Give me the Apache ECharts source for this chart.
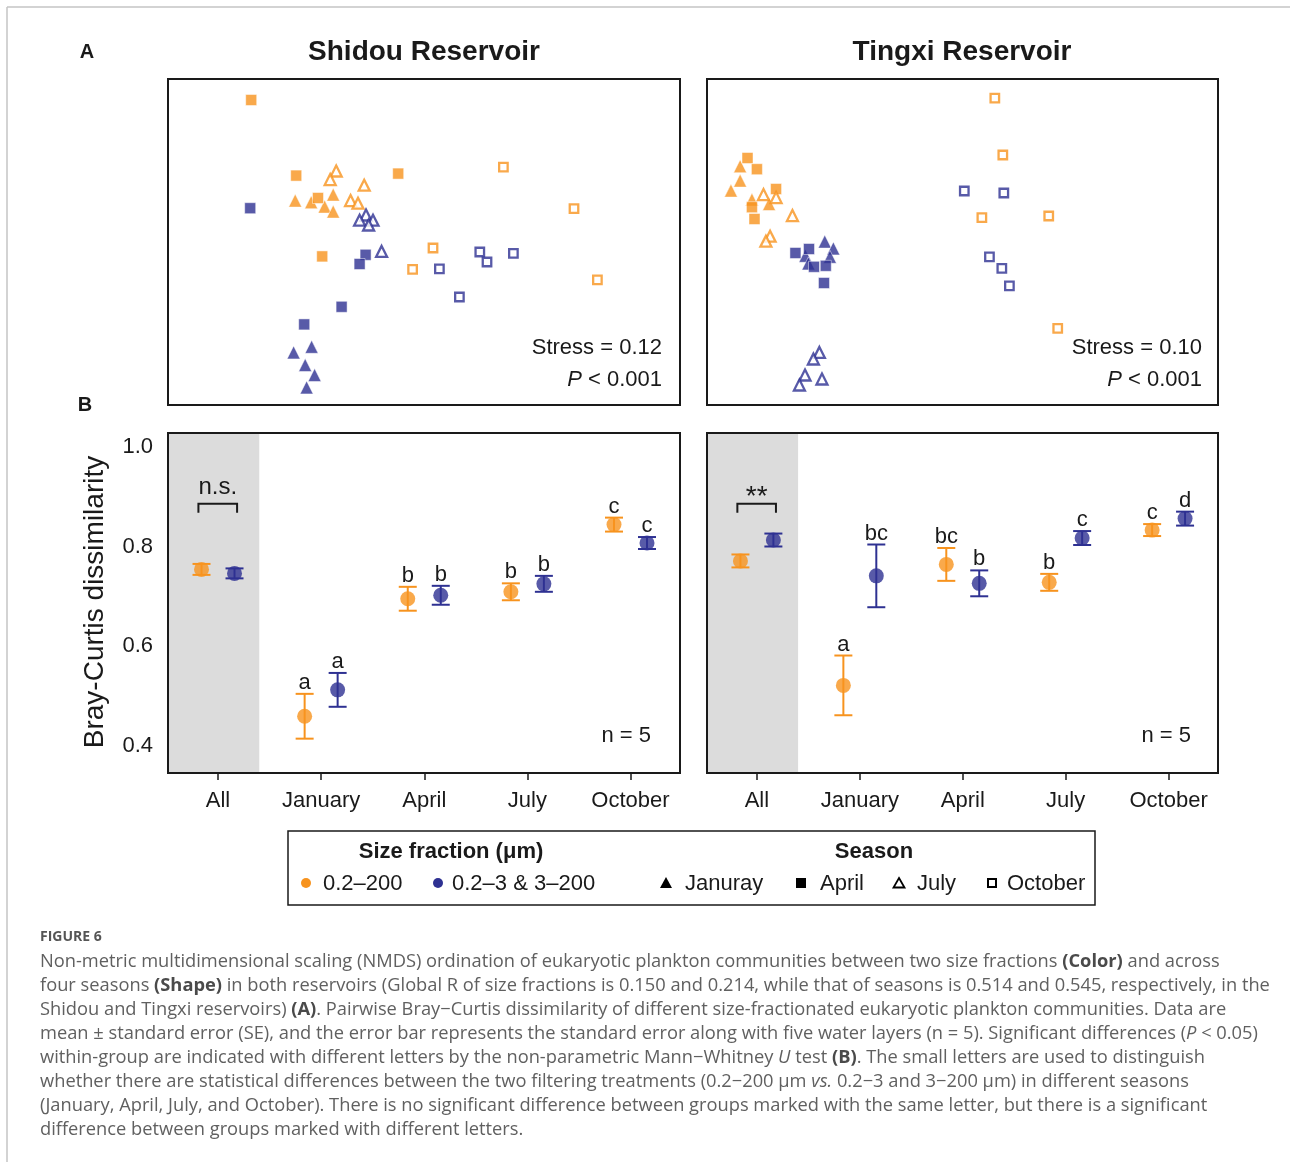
<!DOCTYPE html>
<html>
<head>
<meta charset="utf-8">
<title>NMDS and Bray-Curtis</title>
<script src="https://cdn.jsdelivr.net/npm/echarts@6/dist/echarts.min.js"></script>
<style>
  html, body { margin: 0; padding: 0; background: #fff; }
  #chart { width: 1290px; height: 1162px; }
</style>
</head>
<body>
<div id="chart"></div>
<script>
// ---- data ----
var reservoirs = ['Shidou Reservoir', 'Tingxi Reservoir'];
var seasons = ['January', 'April', 'July', 'October'];
var fractions = ['0.2–200', '0.2–3 & 3–200'];
var stressLabels = ['Stress = 0.12', 'Stress = 0.10'];

// NMDS scores [NMDS1, NMDS2]; "whole" = 0.2–200, "split" = 0.2–3 & 3–200
var shidouWholeJan = [[-0.644, 0.207], [-0.564, 0.199], [-0.454, 0.237], [-0.497, 0.177], [-0.454, 0.152]];
var shidouWholeApr = [[-0.864, 0.710], [-0.639, 0.332], [-0.530, 0.220], [-0.509, -0.072], [-0.129, 0.342]];
var shidouWholeJul = [[-0.439, 0.355], [-0.469, 0.312], [-0.299, 0.284], [-0.367, 0.207], [-0.330, 0.194]];
var shidouWholeOct = [[0.397, 0.374], [0.750, 0.167], [0.045, -0.030], [-0.057, -0.137], [0.867, -0.189]];
var shidouSplitJan = [[-0.652, -0.552], [-0.562, -0.524], [-0.594, -0.615], [-0.547, -0.665], [-0.587, -0.727]];
var shidouSplitApr = [[-0.869, 0.169], [-0.292, -0.064], [-0.322, -0.110], [-0.412, -0.324], [-0.599, -0.412]];
var shidouSplitJul = [[-0.290, 0.135], [-0.322, 0.109], [-0.255, 0.109], [-0.277, 0.085], [-0.212, -0.047]];
var shidouSplitOct = [[0.279, -0.050], [0.315, -0.100], [0.447, -0.057], [0.077, -0.134], [0.177, -0.275]];

var tingxiWholeJan = [[-1.114, 0.379], [-1.114, 0.307], [-1.160, 0.257], [-1.055, 0.212], [-0.969, 0.190]];
var tingxiWholeApr = [[-1.077, 0.420], [-1.030, 0.364], [-0.934, 0.265], [-1.055, 0.174], [-1.042, 0.115]];
var tingxiWholeJul = [[-0.997, 0.237], [-0.934, 0.222], [-0.852, 0.132], [-0.964, 0.029], [-0.985, 0.004]];
var tingxiWholeOct = [[0.162, 0.719], [0.202, 0.435], [0.097, 0.122], [0.432, 0.130], [0.477, -0.432]];
var tingxiSplitJan = [[-0.690, 0.002], [-0.647, -0.032], [-0.664, -0.074], [-0.787, -0.069], [-0.772, -0.107]];
var tingxiSplitApr = [[-0.837, -0.055], [-0.769, -0.035], [-0.744, -0.124], [-0.685, -0.119], [-0.694, -0.205]];
var tingxiSplitJul = [[-0.717, -0.552], [-0.747, -0.585], [-0.789, -0.665], [-0.704, -0.685], [-0.817, -0.715]];
var tingxiSplitOct = [[0.009, 0.255], [0.207, 0.245], [0.135, -0.074], [0.197, -0.132], [0.235, -0.219]];

// Bray-Curtis dissimilarity, mean and SE
var bcCategories = ['All', 'January', 'April', 'July', 'October'];
var bcTicks = [0.4, 0.6, 0.8, 1.0];
var shidouWholeMean = [0.754, 0.459, 0.695, 0.709, 0.844];
var shidouWholeSe = [0.011, 0.045, 0.024, 0.017, 0.014];
var shidouSplitMean = [0.746, 0.512, 0.702, 0.725, 0.807];
var shidouSplitSe = [0.010, 0.034, 0.019, 0.016, 0.012];
var tingxiWholeMean = [0.771, 0.521, 0.764, 0.728, 0.833];
var tingxiWholeSe = [0.013, 0.060, 0.033, 0.017, 0.012];
var tingxiSplitMean = [0.813, 0.741, 0.726, 0.817, 0.856];
var tingxiSplitSe = [0.013, 0.063, 0.026, 0.014, 0.014];
var shidouWholeLetters = ['', 'a', 'b', 'b', 'c'];
var shidouSplitLetters = ['', 'a', 'b', 'b', 'c'];
var tingxiWholeLetters = ['', 'a', 'bc', 'b', 'c'];
var tingxiSplitLetters = ['', 'bc', 'b', 'c', 'd'];
var allTestLabels = ['n.s.', '**'];

// ---- style ----
var FONT = '"Liberation Sans", Arial, Helvetica, sans-serif';
var ORANGE = '#F7931E';
var BLUE = '#2E3192';
var INK = '#1a1a1a';
var OFFSET = 0.16;   // dodge of the two size fractions
var SHADE_END = 0.4; // grey "All" block

function nmdsSeries(axis, data, color, season) {
    var tri = season === 'January' || season === 'July';
    var hollow = season === 'July' || season === 'October';
    return {
        type: 'scatter',
        xAxisIndex: axis,
        yAxisIndex: axis,
        data: data,
        silent: true,
        symbol: tri ? 'triangle' : 'rect',
        symbolSize: tri ? (hollow ? 11 : 13) : (hollow ? 8.5 : 11),
        itemStyle: hollow
            ? { color: '#fff', borderColor: color, borderWidth: 2.3 }
            : { color: color, borderColor: '#fff', borderWidth: 0.6 }
    };
}

function bcSeries(axis, means, ses, letters, color, off) {
    var bars = means.map(function (m, i) { return [i + off, m - ses[i], m + ses[i]]; });
    var pts = means.map(function (m, i) { return [i + off, m]; });
    return [{
        type: 'custom',
        xAxisIndex: axis,
        yAxisIndex: axis,
        data: bars,
        silent: true,
        z: 3,
        renderItem: function (params, api) {
            var x = api.value(0);
            var lo = api.coord([x, api.value(1)]);
            var hi = api.coord([x, api.value(2)]);
            var hw = 9;
            var ls = { stroke: color, lineWidth: 2 };
            return {
                type: 'group',
                children: [
                    { type: 'line', shape: { x1: lo[0], y1: lo[1], x2: hi[0], y2: hi[1] }, style: ls },
                    { type: 'line', shape: { x1: lo[0] - hw, y1: lo[1], x2: lo[0] + hw, y2: lo[1] }, style: ls },
                    { type: 'line', shape: { x1: hi[0] - hw, y1: hi[1], x2: hi[0] + hw, y2: hi[1] }, style: ls },
                    {
                        type: 'text', x: hi[0], y: hi[1],
                        style: {
                            text: letters[params.dataIndex], fill: INK, fontSize: 22, fontFamily: FONT,
                            align: 'center', verticalAlign: 'bottom'
                        }
                    }
                ]
            };
        }
    }, {
        type: 'scatter',
        xAxisIndex: axis,
        yAxisIndex: axis,
        data: pts,
        silent: true,
        z: 4,
        symbol: 'circle',
        symbolSize: 15,
        itemStyle: { color: color }
    }];
}

function bracketSeries(axis, label, gap, size) {
    return {
        type: 'custom',
        xAxisIndex: axis,
        yAxisIndex: axis,
        data: [[-OFFSET - 0.03, OFFSET + 0.025, 0.886, 0.868]],
        silent: true,
        z: 5,
        renderItem: function (params, api) {
            var a = api.coord([api.value(0), api.value(2)]);
            var b = api.coord([api.value(1), api.value(3)]);
            return {
                type: 'group',
                children: [{
                    type: 'polyline',
                    shape: { points: [[a[0], b[1]], [a[0], a[1]], [b[0], a[1]], [b[0], b[1]]] },
                    style: { stroke: INK, lineWidth: 2, fill: null }
                }, {
                    type: 'text', x: (a[0] + b[0]) / 2, y: a[1] - gap,
                    style: {
                        text: label, fill: INK, fontSize: size, fontFamily: FONT,
                        align: 'center', verticalAlign: 'middle'
                    }
                }]
            };
        }
    };
}

function shadeSeries(axis) {
    return {
        type: 'line',
        xAxisIndex: axis,
        yAxisIndex: axis,
        data: [],
        z: 1,
        markArea: {
            silent: true,
            itemStyle: { color: '#dcdcdc' },
            data: [[{ xAxis: -0.485, yAxis: 0.345 }, { xAxis: SHADE_END, yAxis: 1.028 }]]
        }
    };
}

function bcXAxis(grid) {
    return {
        gridIndex: grid, type: 'value', min: -0.485, max: 4.48,
        axisLine: { show: false },
        splitLine: { show: false },
        axisTick: { show: true, length: 7, customValues: [0, 1, 2, 3, 4], lineStyle: { color: INK, width: 1.5 } },
        axisLabel: {
            customValues: [0, 1, 2, 3, 4], margin: 17, fontSize: 22, color: INK, fontFamily: FONT,
            formatter: function (v) { return bcCategories[Math.round(v)]; }
        }
    };
}

function bcYAxis(grid, labels) {
    return {
        gridIndex: grid, type: 'value', min: 0.345, max: 1.028,
        axisLine: { show: false },
        splitLine: { show: false },
        axisTick: { show: true, length: 7, customValues: bcTicks, lineStyle: { color: INK, width: 1.5 } },
        axisLabel: {
            show: labels, customValues: bcTicks, margin: 15, fontSize: 22, color: INK, fontFamily: FONT,
            formatter: function (v) { return v.toFixed(1); }
        }
    };
}

var series = [];
[
    [shidouWholeJan, shidouWholeApr, shidouWholeJul, shidouWholeOct, shidouSplitJan, shidouSplitApr, shidouSplitJul, shidouSplitOct],
    [tingxiWholeJan, tingxiWholeApr, tingxiWholeJul, tingxiWholeOct, tingxiSplitJan, tingxiSplitApr, tingxiSplitJul, tingxiSplitOct]
].forEach(function (sets, axis) {
    sets.forEach(function (d, k) {
        series.push(nmdsSeries(axis, d, k < 4 ? ORANGE : BLUE, seasons[k % 4]));
    });
});

series.push(shadeSeries(2), shadeSeries(3));
series = series.concat(
    bcSeries(2, shidouWholeMean, shidouWholeSe, shidouWholeLetters, ORANGE, -OFFSET),
    bcSeries(2, shidouSplitMean, shidouSplitSe, shidouSplitLetters, BLUE, OFFSET),
    bcSeries(3, tingxiWholeMean, tingxiWholeSe, tingxiWholeLetters, ORANGE, -OFFSET),
    bcSeries(3, tingxiSplitMean, tingxiSplitSe, tingxiSplitLetters, BLUE, OFFSET)
);
series.push(bracketSeries(2, allTestLabels[0], 16, 24), bracketSeries(3, allTestLabels[1], 6, 28));

var gridBase = { show: true, borderColor: INK, borderWidth: 2, z: 10 };
function mkGrid(l, t, w, h) {
    return Object.assign({ left: l, top: t, width: w, height: h }, gridBase);
}

// ---- static texts ----
function txt(x, y, text, opt) {
    return {
        type: 'text', x: x, y: y, silent: true,
        style: Object.assign({
            text: text, fill: INK, fontSize: 22, fontFamily: FONT,
            align: 'left', verticalAlign: 'middle'
        }, opt || {})
    };
}

var richP = { i: { fontStyle: 'italic', fontSize: 22, fontFamily: FONT, fill: INK } };

var legendY = 884;
var graphics = [
    { type: 'line', silent: true, shape: { x1: 7, y1: 7, x2: 1290, y2: 7 }, style: { stroke: '#c4c4c4', lineWidth: 1.5 } },
    { type: 'line', silent: true, shape: { x1: 7, y1: 7, x2: 7, y2: 1162 }, style: { stroke: '#c4c4c4', lineWidth: 1.5 } },
    txt(87, 52, 'A', { fontWeight: 'bold', fontSize: 20, align: 'center' }),
    txt(85, 405, 'B', { fontWeight: 'bold', fontSize: 20, align: 'center' }),
    txt(424, 52, reservoirs[0], { fontWeight: 'bold', fontSize: 28, align: 'center' }),
    txt(962, 52, reservoirs[1], { fontWeight: 'bold', fontSize: 28, align: 'center' }),
    txt(662, 348, stressLabels[0], { align: 'right' }),
    txt(662, 380, '{i|P} < 0.001', { align: 'right', rich: richP }),
    txt(1202, 348, stressLabels[1], { align: 'right' }),
    txt(1202, 380, '{i|P} < 0.001', { align: 'right', rich: richP }),
    txt(651, 736, 'n = 5', { align: 'right' }),
    txt(1191, 736, 'n = 5', { align: 'right' }),
    {
        type: 'text', x: 95, y: 602, rotation: Math.PI / 2, silent: true,
        style: { text: 'Bray-Curtis dissimilarity', fill: INK, fontSize: 28, fontFamily: FONT, align: 'center', verticalAlign: 'middle' }
    },
    // legend box
    { type: 'rect', silent: true, shape: { x: 288, y: 831, width: 807, height: 74 }, style: { fill: null, stroke: INK, lineWidth: 1.5 } },
    txt(451, 852, 'Size fraction (μm)', { fontWeight: 'bold', align: 'center' }),
    txt(874, 852, 'Season', { fontWeight: 'bold', align: 'center' }),
    { type: 'circle', silent: true, shape: { cx: 306, cy: legendY - 1, r: 5 }, style: { fill: ORANGE } },
    txt(323, legendY, fractions[0]),
    { type: 'circle', silent: true, shape: { cx: 438, cy: legendY - 1, r: 5 }, style: { fill: BLUE } },
    txt(452, legendY, fractions[1]),
    { type: 'polygon', silent: true, shape: { points: [[666, legendY - 7], [672, legendY + 4], [660, legendY + 4]] }, style: { fill: '#000' } },
    txt(685, legendY, 'Januray'),
    { type: 'rect', silent: true, shape: { x: 796, y: legendY - 6, width: 10, height: 10 }, style: { fill: '#000' } },
    txt(820, legendY, 'April'),
    { type: 'polygon', silent: true, shape: { points: [[899, legendY - 6], [904.5, legendY + 3.5], [893.5, legendY + 3.5]] }, style: { fill: '#fff', stroke: '#000', lineWidth: 1.8 } },
    txt(917, legendY, 'July'),
    { type: 'rect', silent: true, shape: { x: 988, y: legendY - 5, width: 8, height: 8 }, style: { fill: '#fff', stroke: '#000', lineWidth: 2 } },
    txt(1007, legendY, 'October')
];

// caption
var CAP_FONT = '"Open Sans", Lato, sans-serif';
var CAP_SIZE = 18.3;
var CAP_COL = '#606060';
var captionLines = [
    'Non-metric multidimensional scaling (NMDS) ordination of eukaryotic plankton communities between two size fractions {b|(Color)} and across',
    'four seasons {b|(Shape)} in both reservoirs (Global R of size fractions is 0.150 and 0.214, while that of seasons is 0.514 and 0.545, respectively, in the',
    'Shidou and Tingxi reservoirs) {b|(A)}. Pairwise Bray−Curtis dissimilarity of different size-fractionated eukaryotic plankton communities. Data are',
    'mean ± standard error (SE), and the error bar represents the standard error along with five water layers (n = 5). Significant differences ({i|P} < 0.05)',
    'within-group are indicated with different letters by the non-parametric Mann−Whitney {i|U} test {b|(B)}. The small letters are used to distinguish',
    'whether there are statistical differences between the two filtering treatments (0.2−200 μm {i|vs.} 0.2−3 and 3−200 μm) in different seasons',
    '(January, April, July, and October). There is no significant difference between groups marked with the same letter, but there is a significant',
    'difference between groups marked with different letters.'
];
var capRich = {
    b: { fontWeight: 'bold', fontSize: CAP_SIZE, fontFamily: CAP_FONT, fill: '#4a4a4a' },
    i: { fontStyle: 'italic', fontSize: CAP_SIZE, fontFamily: CAP_FONT, fill: CAP_COL }
};
graphics.push(txt(40, 937, 'FIGURE 6', { fontWeight: 'bold', fontSize: 14, fontFamily: CAP_FONT, fill: '#555' }));
captionLines.forEach(function (line, i) {
    graphics.push(txt(40, 962 + i * 24, line, { fontSize: CAP_SIZE, fontFamily: CAP_FONT, fill: CAP_COL, rich: capRich }));
});

var chart = echarts.init(document.getElementById('chart'), null, { renderer: 'canvas' });
chart.setOption({
    backgroundColor: '#fff',
    animation: false,
    grid: [
        mkGrid(168, 79, 512, 326),
        mkGrid(707, 79, 511, 326),
        mkGrid(168, 433, 512, 340),
        mkGrid(707, 433, 511, 340)
    ],
    xAxis: [
        { gridIndex: 0, type: 'value', min: -1.28, max: 1.28, show: false },
        { gridIndex: 1, type: 'value', min: -1.28, max: 1.28, show: false },
        bcXAxis(2),
        bcXAxis(3)
    ],
    yAxis: [
        { gridIndex: 0, type: 'value', min: -0.815, max: 0.815, show: false },
        { gridIndex: 1, type: 'value', min: -0.815, max: 0.815, show: false },
        bcYAxis(2, true),
        bcYAxis(3, false)
    ],
    series: series,
    graphic: graphics
});
</script>
</body>
</html>
